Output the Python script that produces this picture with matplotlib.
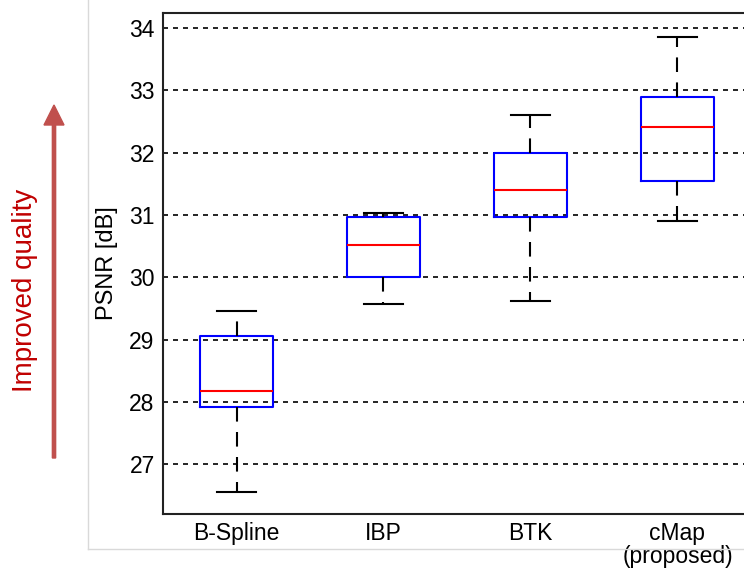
import matplotlib
matplotlib.use("Agg")
import matplotlib.pyplot as plt
from matplotlib.lines import Line2D

plt.rcParams['font.family'] = ['Liberation Sans', 'DejaVu Sans']

methods = ['B-Spline', 'IBP', 'BTK', 'cMap']
notes = ['', '', '', '(proposed)']
whisker_low = [26.55, 29.57, 29.62, 30.90]
q1 = [27.91, 30.00, 30.97, 31.54]
medians = [28.17, 30.52, 31.40, 32.41]
q3 = [29.06, 30.97, 32.00, 32.90]
whisker_high = [29.46, 31.03, 32.61, 33.86]
yticks = [27, 28, 29, 30, 31, 32, 33, 34]

stats = []
for i in range(len(methods)):
    stats.append({'whislo': whisker_low[i], 'q1': q1[i], 'med': medians[i],
                  'q3': q3[i], 'whishi': whisker_high[i], 'label': methods[i]})

fig = plt.figure(figsize=(7.44, 5.70), dpi=100)
W, H = 744, 570

# light gray frame around the figure panel
fig.add_artist(Line2D([88 / W, 88 / W], [1, 1 - 549 / H], color='#d9d9d9', lw=1))
fig.add_artist(Line2D([88 / W, 1], [1 - 549 / H, 1 - 549 / H], color='#d9d9d9', lw=1))

ax = fig.add_axes([163 / W, 1 - 514 / H, 588 / W, 501 / H])

positions = list(range(1, len(methods) + 1))
ax.bxp(stats, positions=positions, widths=0.5, showfliers=False,
       boxprops=dict(color='#0000ff', lw=1.5),
       medianprops=dict(color='#ff0000', lw=1.5),
       whiskerprops=dict(color='black', lw=1.5, linestyle=(0, (7, 5))),
       capprops=dict(color='black', lw=1.5),
       capwidths=0.26)

ax.set_xlim(0.5, 4.5)
ax.set_ylim(26.2, 34.24)
ax.set_yticks(yticks)
ax.set_yticklabels([str(t) for t in yticks])
for t in yticks:
    ax.axhline(t, color='black', lw=1.2, linestyle=(0, (3, 3)), zorder=0)

ax.tick_params(length=0, labelsize=16.5, pad=6)
for s in ax.spines.values():
    s.set_color('#222222')
    s.set_linewidth(1.5)

# second line under a tick label, on white so the frame line hides behind it
for p, note in zip(positions, notes):
    if note:
        ax.annotate(note, xy=(p, 0), xycoords=('data', 'axes fraction'),
                    xytext=(0, -42), textcoords='offset pixels', ha='center', va='center',
                    fontsize=16.5, annotation_clip=False,
                    bbox=dict(facecolor='white', edgecolor='none', pad=0))

ax.set_ylabel('PSNR [dB]', fontsize=17, labelpad=8)

fig.text(25 / W, 1 - 290 / H, 'Improved quality', rotation=90, color='#c00000',
         fontsize=20, ha='center', va='center')
fig.add_artist(matplotlib.patches.FancyArrow(
    54 / W, 1 - 458 / H, 0, (458 - 105) / H, width=2.5 / H, head_width=20 / W,
    head_length=20 / H, length_includes_head=True, color='#c0504d',
    transform=fig.transFigure))

fig.savefig('out.png', dpi=100)
